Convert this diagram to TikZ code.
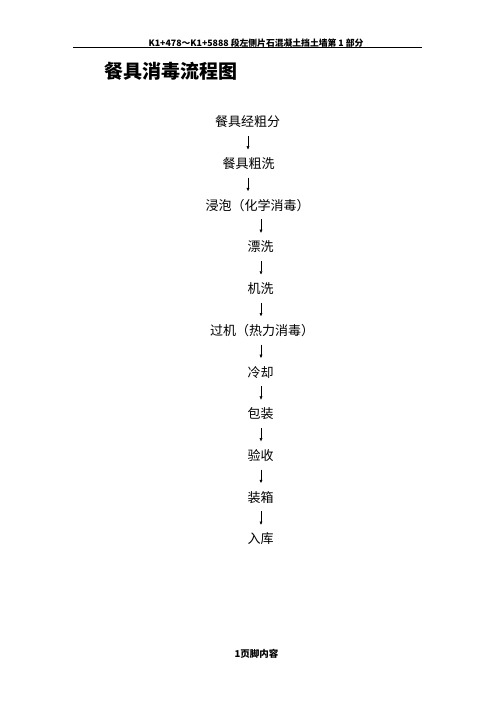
\documentclass[tikz,border=0pt]{standalone}
\usepackage{fontspec}
\setmainfont{Noto Sans CJK SC}
\newfontfamily\cjk{Noto Sans CJK SC}
\usetikzlibrary{arrows.meta}
\tikzset{
  stepbox/.style={inner sep=0pt, font=\cjk\fontsize{13}{13}\selectfont, text height=0.83em, text depth=0.07em},
  arr/.style={-{Triangle[length=3.2pt,width=2.8pt]}, line width=0.5pt, shorten <=8.3pt, shorten >=10.6pt},
  hdr/.style={inner sep=0pt, font=\cjk\bfseries\fontsize{8.8}{8.8}\selectfont},
  ttl/.style={inner sep=0pt, font=\cjk\bfseries\fontsize{19}{19}\selectfont, text height=0.83em, text depth=0.07em},
}
\begin{document}
\begin{tikzpicture}[x=1pt,y=-1pt]
\useasboundingbox[fill=white] (0,0) rectangle (496,702);
% header
\node[hdr] (hd) at (256,42.7) {K1+478～K1+5888 段左侧片石混凝土挡土墙第 1 部分};
\coordinate (hl) at (73,47.3);
\coordinate (hr) at (422,47.3);
\draw[line width=0.8pt] (hl) -- (hr);
% title
\node[ttl] (title) at (171,75) {餐具消毒流程图};
% steps
\coordinate (colA) at (248,0);
\coordinate (colB) at (261,0);
\node[stepbox] (n1) at (247.5,123) {餐具经粗分};
\node[stepbox] (n2) at (248.5,164.7) {餐具粗洗};
\node[stepbox] (n3) at (257.5,206.4) {浸泡（化学消毒）};
\node[stepbox] (n4) at (260.5,248.1) {漂洗};
\node[stepbox] (n5) at (260.5,289.8) {机洗};
\node[stepbox] (n6) at (262,331.5) {过机（热力消毒）};
\node[stepbox] (n7) at (260.5,373.2) {冷却};
\node[stepbox] (n8) at (260.5,414.9) {包装};
\node[stepbox] (n9) at (260.5,456.6) {验收};
\node[stepbox] (n10) at (260.5,498.3) {装箱};
\node[stepbox] (n11) at (260.5,540) {入库};
\draw[arr] (n1.south -| colA) -- (n2.north -| colA);
\draw[arr] (n2.south -| colA) -- (n3.north -| colA);
\draw[arr] (n3.south -| colB) -- (n4.north -| colB);
\draw[arr] (n4.south -| colB) -- (n5.north -| colB);
\draw[arr] (n5.south -| colB) -- (n6.north -| colB);
\draw[arr] (n6.south -| colB) -- (n7.north -| colB);
\draw[arr] (n7.south -| colB) -- (n8.north -| colB);
\draw[arr] (n8.south -| colB) -- (n9.north -| colB);
\draw[arr] (n9.south -| colB) -- (n10.north -| colB);
\draw[arr] (n10.south -| colB) -- (n11.north -| colB);
% footer
\node[hdr, font=\cjk\bfseries\fontsize{9.5}{9.5}\selectfont] (ft) at (256.5,654) {1页脚内容};
\end{tikzpicture}
\end{document}
